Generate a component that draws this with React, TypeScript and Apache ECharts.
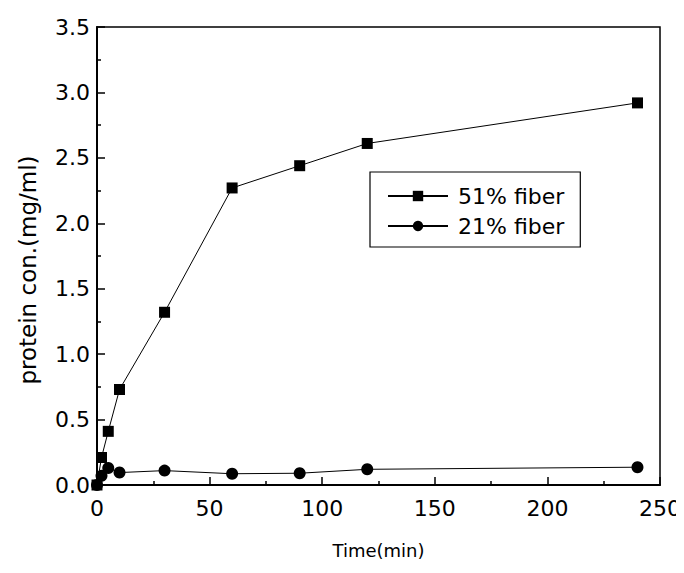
import React, { useEffect, useRef } from "react";
import * as echarts from "echarts";

const timeMin = [0, 2, 5, 10, 30, 60, 90, 120, 240];
const fiber51 = [0, 0.21, 0.41, 0.73, 1.32, 2.27, 2.44, 2.61, 2.92];
const fiber21 = [0, 0.07, 0.13, 0.095, 0.11, 0.086, 0.09, 0.12, 0.136];
const seriesNames = ["51% fiber", "21% fiber"];

const FONT = "'DejaVu Sans', 'Liberation Sans', Arial, sans-serif";

export default function App() {
  const ref = useRef<HTMLDivElement>(null);
  useEffect(() => {
    if (!ref.current) return;
    const chart = echarts.init(ref.current, null, { renderer: "svg" });
    const pairs = (ys: number[]) => timeMin.map((x, i) => [x, ys[i]]);
    chart.setOption({
      animation: false,
      backgroundColor: "#fff",
      textStyle: { fontFamily: FONT },
      grid: {
        left: 97,
        right: 23,
        top: 27,
        bottom: 88,
        show: true,
        borderColor: "#000",
        borderWidth: 1.5,
        backgroundColor: "transparent",
      },
      legend: {
        orient: "vertical",
        left: 370,
        top: 172,
        padding: [13, 16, 10, 17],
        itemGap: 8,
        itemWidth: 60,
        itemHeight: 13,
        borderColor: "#000",
        borderWidth: 1.2,
        textStyle: { fontFamily: FONT, fontSize: 22, color: "#000", padding: [0, 0, 0, 5] },
        data: seriesNames,
      },
      xAxis: {
        type: "value",
        min: 0,
        max: 250,
        interval: 50,
        name: "Time(min)",
        nameLocation: "middle",
        nameGap: 56,
        nameTextStyle: { fontFamily: FONT, fontSize: 18, color: "#000" },
        axisLine: { show: true, onZero: false, lineStyle: { color: "#000", width: 2 } },
        axisTick: { show: true, inside: true, length: 8, lineStyle: { color: "#000", width: 1.5 } },
        minorTick: { show: true, splitNumber: 2, length: 4, lineStyle: { color: "#000", width: 1.5 } },
        splitLine: { show: false },
        axisLabel: { fontFamily: FONT, fontSize: 22, color: "#000", margin: 12 },
      },
      yAxis: {
        type: "value",
        min: 0,
        max: 3.5,
        interval: 0.5,
        name: "protein con.(mg/ml)",
        nameLocation: "middle",
        nameGap: 58,
        nameTextStyle: { fontFamily: FONT, fontSize: 23, color: "#000", padding: [0, 28, 0, 0] },
        axisLine: { show: true, onZero: false, lineStyle: { color: "#000", width: 2 } },
        axisTick: { show: true, inside: true, length: 8, lineStyle: { color: "#000", width: 1.5 } },
        minorTick: { show: true, splitNumber: 2, length: 4, lineStyle: { color: "#000", width: 1.5 } },
        splitLine: { show: false },
        axisLabel: {
          fontFamily: FONT,
          fontSize: 22,
          color: "#000",
          margin: 7,
          formatter: (v: number) => v.toFixed(1),
        },
      },
      series: [
        {
          name: seriesNames[0],
          type: "line",
          data: pairs(fiber51),
          symbol: "rect",
          symbolSize: 11,
          showAllSymbol: true,
          lineStyle: { color: "#000", width: 1 },
          itemStyle: { color: "#000" },
          clip: false,
        },
        {
          name: seriesNames[1],
          type: "line",
          data: pairs(fiber21),
          symbol: "circle",
          symbolSize: 12,
          showAllSymbol: true,
          lineStyle: { color: "#000", width: 1 },
          itemStyle: { color: "#000" },
          clip: false,
        },
      ],
    });
    return () => chart.dispose();
  }, []);
  return <div ref={ref} style={{ width: 684, height: 573, margin: -8 }} />;
}
